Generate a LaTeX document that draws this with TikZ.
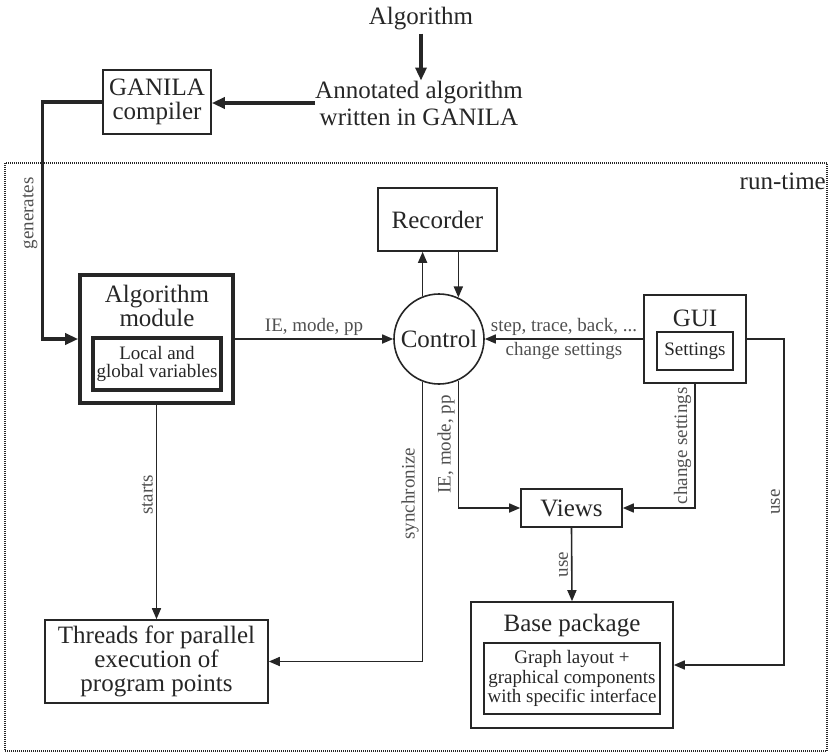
\documentclass[tikz,border=0pt]{standalone}
\usepackage{fontspec}
\setmainfont{Liberation Serif}
\usetikzlibrary{arrows.meta}
\definecolor{ink}{HTML}{262626}
\definecolor{lblgray}{HTML}{505050}
\newcommand\bigtext{\fontsize{25}{24}\selectfont}
\newcommand\smalltext{\fontsize{19}{19}\selectfont}
\tikzset{txt/.style={font=\bigtext, text=ink, align=center, inner sep=0pt},
  box/.style={draw=ink, line width=1.6pt, font=\bigtext, text=ink, align=center, inner sep=0pt},
  innerbox/.style={box, font=\smalltext},
  arr/.style={draw=ink, line width=1.6pt, -{Triangle[length=11pt,width=9pt]}},
  thickarr/.style={draw=ink, line width=3.4pt, -{Triangle[length=13pt,width=11pt]}},
  lbl/.style={text=lblgray, font=\smalltext, inner sep=3pt},
  runtime/.style={draw=ink, line width=1.3pt, dash pattern=on 1pt off 1pt}}

\begin{document}
\begin{tikzpicture}[x=1pt,y=-1pt]
   \useasboundingbox (0,0) rectangle (830,753);
   \draw[runtime] (5,163) rectangle (827,751);
   \node[txt] (alg) at (421,19) {Algorithm};
   \node[txt, font=\fontsize{25}{27}\selectfont] (ann) at (419,103) {Annotated algorithm\\written in GANILA};
   \node[box, minimum width=108pt, minimum height=64pt] (gc) at (157,102) {GANILA\\compiler};
   \node[txt, anchor=east] (rt) at (826,181) {run-time};
   \node[box, minimum width=119pt, minimum height=63pt] (rec) at (437.5,219.5) {Recorder};
   \node[box, circle, minimum size=90pt] (ctl) at (439,339) {Control};
   \node[box, line width=3.6pt, minimum width=153pt, minimum height=128pt] (mod) at (156.5,339) {};
   \node[txt] (modt) at (157,306) {Algorithm\\module};
   \node[innerbox, line width=3.2pt, font=\fontsize{19}{18.5}\selectfont, minimum width=128pt, minimum height=52pt] (vars) at (157,364) {Local and\\global variables};
   \node[box, minimum width=102pt, minimum height=88pt] (gui) at (695,339) {};
   \node[txt] (guit) at (695,318) {GUI};
   \node[innerbox, minimum width=76pt, minimum height=38pt] (set) at (695,351) {Settings};
   \node[box, minimum width=101pt, minimum height=38pt] (views) at (571.5,508) {Views};
   \node[box, minimum width=223pt, minimum height=83pt] (thr) at (156.5,661.5) {Threads for parallel\\execution of\\program points};
   \node[box, minimum width=202pt, minimum height=126pt] (base) at (572,665) {};
   \node[txt] (baset) at (572,626) {Base package};
   \node[innerbox, font=\fontsize{19}{19.5}\selectfont, minimum width=176pt, minimum height=71pt] (gl) at (572,678.5) {Graph layout +\\graphical components\\with specific interface};

   \draw[thickarr] (alg.south) ++(0,3) -- (alg.south |- ann.north);
   \draw[thickarr] (ann.west) -- (ann.west -| gc.east);
   \draw[thickarr] (gc.west) -- ++(-60,0) |- node[lbl, pos=0.235, above, rotate=90] {generates} (mod.west);
   \draw[arr] (mod.east) -- node[lbl, above] {IE, mode, pp} (ctl.west);
   \draw[arr] (ctl.111) -- (ctl.111 |- rec.south);
   \draw[arr] (rec.south -| ctl.65) -- (ctl.65);
   \draw[arr] (gui.west) -- node[lbl, above] {step, trace, back, ...} node[lbl, below] {change settings} (ctl.east);
   \draw[arr] (ctl.295) |- node[lbl, pos=0.25, above, rotate=90] {IE, mode, pp} (views.west);
   \draw[arr] (ctl.249) |- node[lbl, pos=0.2, above, rotate=90] {synchronize} (thr.east);
   \draw[arr] (mod.south) -- node[lbl, pos=0.42, above, rotate=90] {starts} (thr.north);
   \draw[arr] (gui.south) |- node[lbl, pos=0.25, above, rotate=90] {change settings} (views.east);
   \draw[arr] (gui.east) -- ++(37,0) |- node[lbl, pos=0.25, above, rotate=90] {use} (base.east);
   \draw[arr] (views.south) -- node[lbl, above, rotate=90] {use} (base.north);
\end{tikzpicture}
\end{document}
